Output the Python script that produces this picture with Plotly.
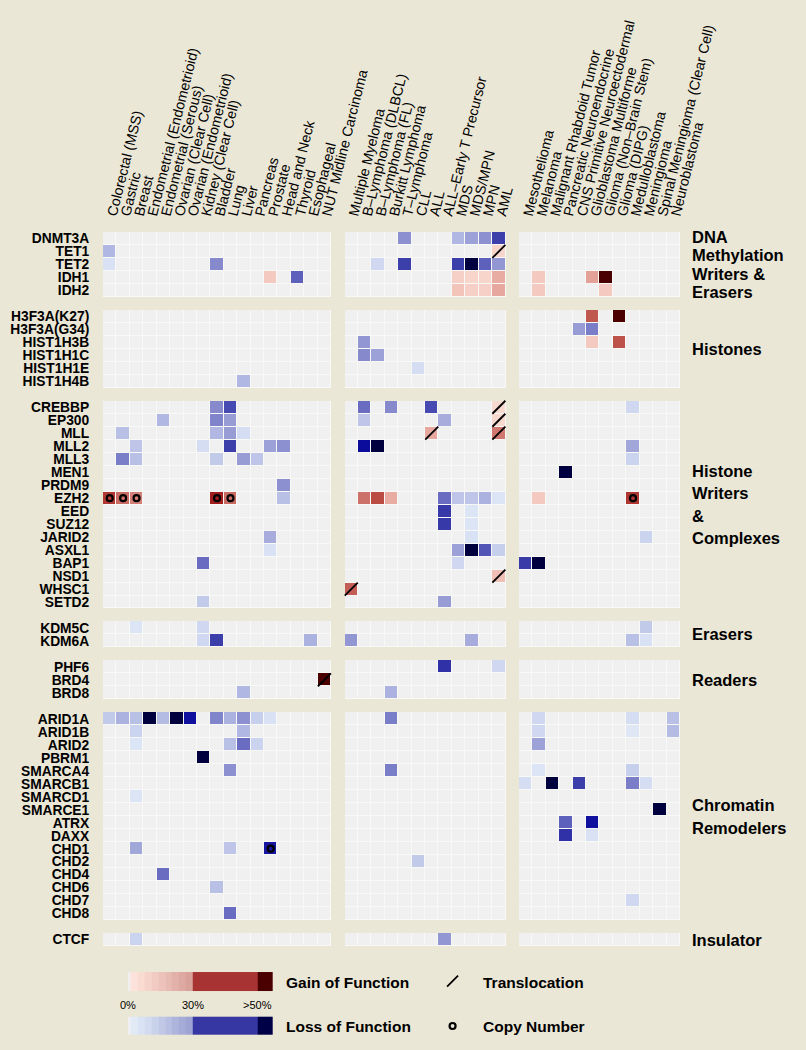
import numpy as np
import plotly.graph_objects as go

# ---------------- data ----------------
solid_tumors = ["Colorectal (MSS)", "Gastric", "Breast", "Endometrial (Endometrioid)",
                "Endometrial (Serous)", "Ovarian (Clear Cell)", "Ovarian (Endometrioid)",
                "Kidney (Clear Cell)", "Bladder", "Lung", "Liver", "Pancreas", "Prostate",
                "Head and Neck", "Thyroid", "Esophageal", "NUT Midline Carcinoma"]
heme_tumors = ["Multiple Myeloma", "B–Lymphoma (DLBCL)", "B–Lymphoma (FL)", "Burkitt Lymphoma",
               "T–Lymphoma", "CLL", "ALL", "ALL–Early T Precursor", "MDS", "MDS/MPN", "MPN", "AML"]
other_tumors = ["Mesothelioma", "Melanoma", "Malignant Rhabdoid Tumor", "Pancreatic Neuroendocrine",
                "CNS Primitive Neuroectodermal", "Glioblastoma Multiforme", "Glioma (Non–Brain Stem)",
                "Glioma (DIPG)", "Medulloblastoma", "Meningioma", "Spinal Meningioma (Clear Cell)",
                "Neuroblastoma"]

gene_groups = [
    ["DNMT3A", "TET1", "TET2", "IDH1", "IDH2"],
    ["H3F3A(K27)", "H3F3A(G34)", "HIST1H3B", "HIST1H1C", "HIST1H1E", "HIST1H4B"],
    ["CREBBP", "EP300", "MLL", "MLL2", "MLL3", "MEN1", "PRDM9", "EZH2", "EED", "SUZ12",
     "JARID2", "ASXL1", "BAP1", "NSD1", "WHSC1", "SETD2"],
    ["KDM5C", "KDM6A"],
    ["PHF6", "BRD4", "BRD8"],
    ["ARID1A", "ARID1B", "ARID2", "PBRM1", "SMARCA4", "SMARCB1", "SMARCD1", "SMARCE1",
     "ATRX", "DAXX", "CHD1", "CHD2", "CHD4", "CHD6", "CHD7", "CHD8"],
    ["CTCF"],
]
group_labels = [["DNA", "Methylation", "Writers &", "Erasers"], ["Histones"],
                ["Histone", "Writers", "&", "Complexes"], ["Erasers"], ["Readers"],
                ["Chromatin", "Remodelers"], ["Insulator"]]

# signed percent: + gain of function, - loss of function (60 = ">50%")
solid_values = [
    ("TET1", "Colorectal (MSS)", -14), ("TET2", "Colorectal (MSS)", -5), ("TET2", "Bladder", -22),
    ("IDH1", "Prostate", 6), ("IDH1", "Thyroid", -27), ("HIST1H4B", "Liver", -14),
    ("CREBBP", "Bladder", -22), ("CREBBP", "Lung", -29),
    ("EP300", "Endometrial (Serous)", -14), ("EP300", "Bladder", -23), ("EP300", "Lung", -19),
    ("MLL", "Gastric", -12), ("MLL", "Bladder", -14), ("MLL", "Lung", -19), ("MLL", "Liver", -6),
    ("MLL2", "Breast", -11), ("MLL2", "Kidney (Clear Cell)", -6), ("MLL2", "Lung", -30),
    ("MLL2", "Prostate", -18), ("MLL2", "Head and Neck", -21),
    ("MLL3", "Gastric", -24), ("MLL3", "Breast", -12), ("MLL3", "Bladder", -10),
    ("MLL3", "Liver", -19), ("MLL3", "Pancreas", -11),
    ("PRDM9", "Head and Neck", -21),
    ("EZH2", "Colorectal (MSS)", 30), ("EZH2", "Gastric", 22), ("EZH2", "Breast", 19),
    ("EZH2", "Bladder", 45), ("EZH2", "Lung", 22), ("EZH2", "Head and Neck", -12),
    ("JARID2", "Prostate", -16), ("ASXL1", "Prostate", -5),
    ("BAP1", "Kidney (Clear Cell)", -26), ("SETD2", "Kidney (Clear Cell)", -10),
    ("KDM5C", "Breast", -4), ("KDM5C", "Kidney (Clear Cell)", -7),
    ("KDM6A", "Kidney (Clear Cell)", -7), ("KDM6A", "Bladder", -30), ("KDM6A", "Esophageal", -15),
    ("BRD4", "NUT Midline Carcinoma", 60), ("BRD8", "Liver", -14),
    ("ARID1A", "Colorectal (MSS)", -10), ("ARID1A", "Gastric", -15), ("ARID1A", "Breast", -12),
    ("ARID1A", "Endometrial (Endometrioid)", -60), ("ARID1A", "Endometrial (Serous)", -13),
    ("ARID1A", "Ovarian (Clear Cell)", -60), ("ARID1A", "Ovarian (Endometrioid)", -48),
    ("ARID1A", "Bladder", -23), ("ARID1A", "Lung", -15), ("ARID1A", "Liver", -21),
    ("ARID1A", "Pancreas", -9), ("ARID1A", "Prostate", -5),
    ("ARID1B", "Breast", -8), ("ARID1B", "Liver", -14),
    ("ARID2", "Breast", -4), ("ARID2", "Lung", -12), ("ARID2", "Liver", -26), ("ARID2", "Pancreas", -8),
    ("PBRM1", "Kidney (Clear Cell)", -60), ("SMARCA4", "Lung", -21), ("SMARCD1", "Breast", -4),
    ("CHD1", "Breast", -17), ("CHD1", "Lung", -11), ("CHD1", "Prostate", -45),
    ("CHD4", "Endometrial (Serous)", -26), ("CHD6", "Bladder", -12), ("CHD8", "Lung", -26),
    ("CTCF", "Breast", -8),
]
heme_values = [
    ("DNMT3A", "T–Lymphoma", -21), ("DNMT3A", "MDS", -14), ("DNMT3A", "MDS/MPN", -18),
    ("DNMT3A", "MPN", -21), ("DNMT3A", "AML", -30),
    ("TET1", "AML", 4),
    ("TET2", "B–Lymphoma (FL)", -7), ("TET2", "T–Lymphoma", -30), ("TET2", "MDS", -30),
    ("TET2", "MDS/MPN", -60), ("TET2", "MPN", -27), ("TET2", "AML", -20),
    ("IDH1", "MDS", 5), ("IDH1", "MDS/MPN", 4), ("IDH1", "MPN", 4), ("IDH1", "AML", 11),
    ("IDH2", "MDS", 7), ("IDH2", "MDS/MPN", 5), ("IDH2", "MPN", 5), ("IDH2", "AML", 12),
    ("HIST1H3B", "B–Lymphoma (DLBCL)", -20), ("HIST1H1C", "B–Lymphoma (DLBCL)", -22),
    ("HIST1H1C", "B–Lymphoma (FL)", -18), ("HIST1H1E", "CLL", -6),
    ("CREBBP", "B–Lymphoma (DLBCL)", -26), ("CREBBP", "Burkitt Lymphoma", -22),
    ("CREBBP", "ALL", -29), ("CREBBP", "AML", 3),
    ("EP300", "B–Lymphoma (DLBCL)", -11), ("EP300", "ALL–Early T Precursor", -16), ("EP300", "AML", 3),
    ("MLL", "ALL", 12), ("MLL", "AML", 20),
    ("MLL2", "B–Lymphoma (DLBCL)", -50), ("MLL2", "B–Lymphoma (FL)", -60),
    ("EZH2", "B–Lymphoma (DLBCL)", 21), ("EZH2", "B–Lymphoma (FL)", 27), ("EZH2", "Burkitt Lymphoma", 11),
    ("EZH2", "ALL–Early T Precursor", -26), ("EZH2", "MDS", -11), ("EZH2", "MDS/MPN", -11),
    ("EZH2", "MPN", -15), ("EZH2", "AML", -4),
    ("EED", "ALL–Early T Precursor", -33), ("EED", "MDS/MPN", -4),
    ("SUZ12", "ALL–Early T Precursor", -33), ("SUZ12", "MDS/MPN", -4), ("JARID2", "MDS/MPN", -5),
    ("ASXL1", "MDS", -18), ("ASXL1", "MDS/MPN", -60), ("ASXL1", "MPN", -28), ("ASXL1", "AML", -9),
    ("BAP1", "MDS", -7), ("NSD1", "AML", 8), ("WHSC1", "Multiple Myeloma", 24),
    ("SETD2", "ALL–Early T Precursor", -19),
    ("KDM6A", "Multiple Myeloma", -20), ("KDM6A", "MDS/MPN", -16),
    ("PHF6", "ALL–Early T Precursor", -38), ("PHF6", "AML", -7), ("BRD8", "Burkitt Lymphoma", -15),
    ("ARID1A", "Burkitt Lymphoma", -24), ("SMARCA4", "Burkitt Lymphoma", -24),
    ("CHD2", "CLL", -10), ("CTCF", "ALL–Early T Precursor", -20),
]
other_values = [
    ("IDH1", "Melanoma", 6), ("IDH1", "Glioblastoma Multiforme", 13), ("IDH1", "Glioma (Non–Brain Stem)", 60),
    ("IDH2", "Melanoma", 6), ("IDH2", "Glioma (Non–Brain Stem)", 6),
    ("H3F3A(K27)", "Glioblastoma Multiforme", 25), ("H3F3A(K27)", "Glioma (DIPG)", 60),
    ("H3F3A(G34)", "CNS Primitive Neuroectodermal", -19), ("H3F3A(G34)", "Glioblastoma Multiforme", -24),
    ("HIST1H3B", "Glioblastoma Multiforme", 6), ("HIST1H3B", "Glioma (DIPG)", 26),
    ("CREBBP", "Medulloblastoma", -7), ("MLL2", "Medulloblastoma", -17), ("MLL3", "Medulloblastoma", -8),
    ("MEN1", "Pancreatic Neuroendocrine", -60),
    ("EZH2", "Melanoma", 6), ("EZH2", "Medulloblastoma", 32), ("JARID2", "Meningioma", -8),
    ("BAP1", "Mesothelioma", -32), ("BAP1", "Melanoma", -60),
    ("KDM5C", "Meningioma", -10), ("KDM6A", "Medulloblastoma", -12), ("KDM6A", "Meningioma", -5),
    ("ARID1A", "Melanoma", -7), ("ARID1A", "Medulloblastoma", -6), ("ARID1A", "Neuroblastoma", -12),
    ("ARID1B", "Melanoma", -7), ("ARID1B", "Medulloblastoma", -3), ("ARID1B", "Neuroblastoma", -13),
    ("ARID2", "Melanoma", -18), ("SMARCA4", "Melanoma", -4), ("SMARCA4", "Medulloblastoma", -9),
    ("SMARCB1", "Mesothelioma", -6), ("SMARCB1", "Malignant Rhabdoid Tumor", -60),
    ("SMARCB1", "CNS Primitive Neuroectodermal", -30), ("SMARCB1", "Medulloblastoma", -24),
    ("SMARCB1", "Meningioma", -6), ("SMARCE1", "Spinal Meningioma (Clear Cell)", -60),
    ("ATRX", "Pancreatic Neuroendocrine", -27), ("ATRX", "Glioblastoma Multiforme", -48),
    ("DAXX", "Pancreatic Neuroendocrine", -38), ("DAXX", "Glioblastoma Multiforme", -5),
    ("CHD7", "Medulloblastoma", -7),
]
translocations = [("TET1", "AML"), ("CREBBP", "AML"), ("EP300", "AML"), ("MLL", "ALL"), ("MLL", "AML"),
                  ("NSD1", "AML"), ("WHSC1", "Multiple Myeloma"), ("BRD4", "NUT Midline Carcinoma")]
copy_number = [("EZH2", "Colorectal (MSS)"), ("EZH2", "Gastric"), ("EZH2", "Breast"), ("EZH2", "Bladder"),
               ("EZH2", "Lung"), ("EZH2", "Medulloblastoma"), ("CHD1", "Prostate")]

legend_ticks = ["0%", "30%", ">50%"]
gain_legend_colors = ["#F2EEEE", "#FCE2DA", "#F9DBD2", "#F5D3CA", "#F1CBC2", "#ECC2BA", "#E7BAB2",
                      "#E2B1A9", "#DDA9A1", "#D8A199", "#A83333", "#4A0000"]
loss_legend_colors = ["#EEF0F4", "#E2EAF6", "#DAE3F3", "#D2DBEF", "#C9D2EB", "#C0C8E6", "#B7BFE2",
                      "#AEB5DD", "#A5ACD8", "#9DA3D3", "#3737A3", "#000046"]

# ---------------- layout helpers ----------------
panels = [solid_tumors, heme_tumors, other_tumors]
col_of = {}
xtick_vals, xtick_text = [], []
pos = 0
for p in panels:
    for c in p:
        col_of[c] = pos
        xtick_vals.append(pos)
        xtick_text.append(c)
        pos += 1
    pos += 1
ncols = pos - 1

row_of = {}
ytick_vals, ytick_text, group_spans = [], [], []
pos = 0
for g in gene_groups:
    start = pos
    for gene in g:
        row_of[gene] = pos
        ytick_vals.append(pos)
        ytick_text.append(gene)
        pos += 1
    group_spans.append((start, pos - 1))
    pos += 1
nrows = pos - 1

bg = np.full((nrows, ncols), np.nan)
z = np.full((nrows, ncols), np.nan)
for (r0, r1) in group_spans:
    for p in panels:
        for c in p:
            bg[r0:r1 + 1, col_of[c]] = 1
            z[r0:r1 + 1, col_of[c]] = 0
for gene, cancer, v in solid_values + heme_values + other_values:
    z[row_of[gene], col_of[cancer]] = v

stops = [(-60, "#00003F"), (-50.5, "#00003F"), (-50, "#0C0C9C"), (-45, "#1616A0"), (-40, "#2E2EA6"),
         (-30, "#3C3EAA"), (-25, "#7478C6"), (-20, "#9296D2"), (-15, "#ACB2E0"), (-10, "#C2CAEA"),
         (-5, "#D8E2F4"), (-1, "#E6ECF6"), (0, "#F0F0F0"), (1, "#FAE2DA"), (5, "#F6D0C6"),
         (10, "#EBB2A8"), (15, "#DE968E"), (20, "#D07870"), (25, "#C05850"), (30, "#B03A33"),
         (40, "#A82828"), (50, "#9A1010"), (50.5, "#4A0000"), (60, "#4A0000")]
colorscale = [[(v + 60) / 120, c] for v, c in stops]

FONT = "Liberation Sans, Arial, Helvetica, sans-serif"
fig = go.Figure()
fig.add_trace(go.Heatmap(z=bg, x=list(range(ncols)), y=list(range(nrows)),
                         colorscale=[[0, "#F8F8F6"], [1, "#F8F8F6"]], showscale=False,
                         hoverinfo="skip"))
fig.add_trace(go.Heatmap(z=z, x=list(range(ncols)), y=list(range(nrows)), colorscale=colorscale,
                         zmin=-60, zmax=60, xgap=1, ygap=1, showscale=False))
fig.add_trace(go.Scatter(x=[col_of[c] for g, c in translocations], y=[row_of[g] for g, c in translocations],
                         mode="markers", showlegend=False,
                         marker=dict(symbol="line-ne", size=13, color="black",
                                     line=dict(width=1.8, color="black"))))
fig.add_trace(go.Scatter(x=[col_of[c] for g, c in copy_number], y=[row_of[g] for g, c in copy_number],
                         mode="markers", showlegend=False,
                         marker=dict(symbol="circle-open", size=6, color="black",
                                     line=dict(width=2.2, color="black"))))

# ---------------- legend ----------------
edges = [0] + list(np.linspace(0.5, 10, 10)) + [20, 22.25]
for colors, ylo, yhi in [(gain_legend_colors, 4, 22.7), (loss_legend_colors, 48.7, 67)]:
    n = len(colors)
    fig.add_trace(go.Heatmap(z=[list(range(n))], x=edges, y=[ylo, yhi], zmin=0, zmax=n - 1,
                             colorscale=[[k / (n - 1), col] for k, col in enumerate(colors)],
                             showscale=False, hoverinfo="skip", xaxis="x2", yaxis="y2"))
fig.add_trace(go.Scatter(x=[50], y=[13], mode="markers", xaxis="x2", yaxis="y2", showlegend=False,
                         marker=dict(symbol="line-ne", size=11, color="black",
                                     line=dict(width=1.8, color="black"))))
fig.add_trace(go.Scatter(x=[50], y=[58], mode="markers", xaxis="x2", yaxis="y2", showlegend=False,
                         marker=dict(symbol="circle-open", size=6, color="black",
                                     line=dict(width=2.2, color="black"))))

ann = []
for t, sx in zip(legend_ticks, [0, 10, 19.9]):
    ann.append(dict(x=sx, y=37, xref="x2", yref="y2", text=t, showarrow=False,
                    font=dict(size=11, family=FONT, color="black")))
for t, yy, sx in [("Gain of Function", 14, 24.1), ("Loss of Function", 58, 24.1),
                  ("Translocation", 14, 54.4), ("Copy Number", 58, 54.4)]:
    ann.append(dict(x=sx, y=yy, xref="x2", yref="y2", text=t, showarrow=False, xanchor="left",
                    font=dict(size=15.5, family=FONT, color="black", weight="bold")))

line_spacing = [18.5, 0, 22.5, 0, 0, 23, 0]
for (r0, r1), lines, sp in zip(group_spans, group_labels, line_spacing):
    mid = (len(lines) - 1) / 2
    for i, t in enumerate(lines):
        ann.append(dict(x=1, xref="paper", xanchor="left", xshift=10, y=(r0 + r1) / 2, yref="y",
                        yshift=(mid - i) * sp, text=t, showarrow=False,
                        font=dict(size=16.5, family=FONT, color="black", weight="bold")))

H_TOP, H_BOT = 231.7, 10
plot_h = 1050 - H_TOP - H_BOT
fig.update_layout(
    width=806, height=1050,
    paper_bgcolor="#EBE7D6", plot_bgcolor="rgba(0,0,0,0)",
    margin=dict(l=103.3, r=125.5, t=H_TOP, b=H_BOT, autoexpand=False),
    annotations=ann, showlegend=False,
    xaxis=dict(side="top", range=[-0.5, ncols - 0.5], tickvals=xtick_vals, ticktext=xtick_text,
               tickangle=-76, showgrid=False, zeroline=False, showline=False,
               ticks="outside", ticklen=3, tickcolor="rgba(0,0,0,0)",
               tickfont=dict(size=14.2, family=FONT, color="black"), domain=[0, 1]),
    yaxis=dict(range=[nrows - 0.5, -0.5], tickvals=ytick_vals, ticktext=ytick_text,
               showgrid=False, zeroline=False, showline=False,
               ticks="outside", ticklen=10, tickcolor="rgba(0,0,0,0)",
               tickfont=dict(size=13.8, family=FONT, color="black", weight="bold"),
               domain=[(1050 - H_BOT - 946) / plot_h, 1]),
    xaxis2=dict(domain=[(128 - 103.3) / 577.2, 1], range=[0, 85], visible=False, anchor="y2"),
    yaxis2=dict(domain=[0, (1050 - H_BOT - 968) / plot_h], range=[72, 0], visible=False, anchor="x2"),
)
fig.write_html("out.html", config={"displayModeBar": False},
               post_script="document.body.style.margin='0';document.body.style.padding='0';"
                           "document.body.style.overflow='hidden';")
